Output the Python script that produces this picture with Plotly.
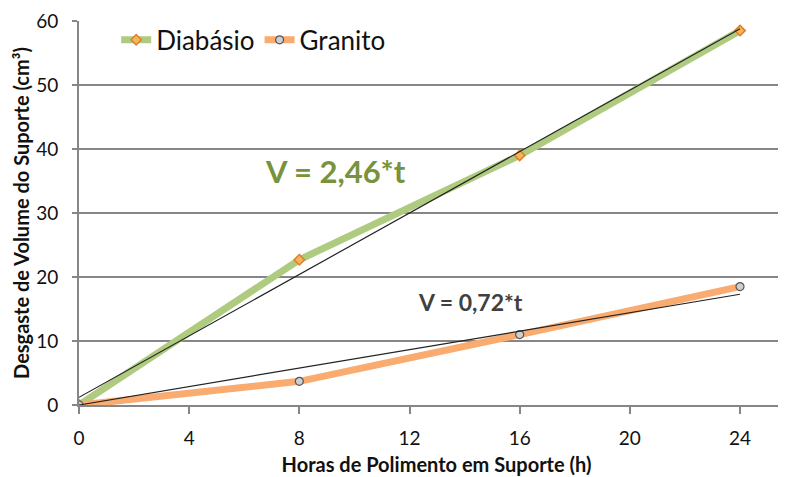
import plotly.graph_objects as go

horas = [0, 8, 16, 24]
diabasio = [0, 22.7, 39.0, 58.5]
granito = [0, 3.7, 11.0, 18.5]

trend_x = [0, 24]
diabasio_trend = [1.2, 58.8]
granito_trend = [0, 17.3]

x_ticks = [0, 4, 8, 12, 16, 20, 24]
y_ticks = [0, 10, 20, 30, 40, 50, 60]

GREEN = "#AECB80"
ORANGE = "#F9AB70"
FONT = "Lato"

fig = go.Figure()

fig.add_trace(go.Scatter(
    x=horas, y=diabasio, name="Diabásio", mode="lines+markers",
    line=dict(color=GREEN, width=7),
    marker=dict(symbol="diamond", size=8, color="#F5B45A",
                line=dict(color="#D9822B", width=1.5)),
))
fig.add_trace(go.Scatter(
    x=horas, y=granito, name="Granito", mode="lines+markers",
    line=dict(color=ORANGE, width=7),
    marker=dict(symbol="circle", size=8, color="#CFCFCF",
                line=dict(color="#555555", width=1.2)),
))
fig.add_trace(go.Scatter(
    x=trend_x, y=diabasio_trend, mode="lines", showlegend=False,
    line=dict(color="#222222", width=1.2),
))
fig.add_trace(go.Scatter(
    x=trend_x, y=granito_trend, mode="lines", showlegend=False,
    line=dict(color="#222222", width=1.2),
))

# equation labels
fig.add_annotation(x=9.3, y=36.5, text="<b>V = 2,46*t</b>", showarrow=False,
                   font=dict(family=FONT, size=31, color="#77933C"))
fig.add_annotation(x=14.2, y=16.1, text="<b>V = 0,72*t</b>", showarrow=False,
                   font=dict(family=FONT, size=23, color="#404040"))

fig.update_xaxes(
    range=[0, 25.96], tickvals=x_ticks, showgrid=False,
    showline=True, linecolor="#868686", linewidth=2,
    ticks="outside", ticklen=7, tickcolor="#868686", tickwidth=2,
    ticklabelstandoff=8,
    tickfont=dict(family=FONT, size=19, color="#111111"),
    title=dict(text="<b>Horas de Polimento em Suporte (h)</b>",
               font=dict(family=FONT, size=20, color="#111111"), standoff=10),
    zeroline=False,
)
fig.update_yaxes(
    range=[0, 60], tickvals=y_ticks, showgrid=True,
    gridcolor="#868686", gridwidth=1.5,
    showline=True, linecolor="#868686", linewidth=2,
    ticks="outside", ticklen=5, tickcolor="#868686", tickwidth=2,
    ticklabelstandoff=10,
    tickfont=dict(family=FONT, size=19, color="#111111"),
    title=dict(text="<b>Desgaste de Volume do Suporte (cm³)</b>",
               font=dict(family=FONT, size=20, color="#111111"), standoff=1),
    zeroline=False,
)

fig.update_layout(
    width=786, height=477,
    margin=dict(l=71, r=0, t=13, b=80, autoexpand=False),
    paper_bgcolor="white", plot_bgcolor="white",
    legend=dict(x=0.052, y=1.012, xanchor="left", yanchor="top",
                orientation="h", bgcolor="rgba(255,255,255,0)",
                font=dict(family=FONT, size=26, color="#111111"),
                itemwidth=30),
    showlegend=True,
)

fig.write_html("out.html")
